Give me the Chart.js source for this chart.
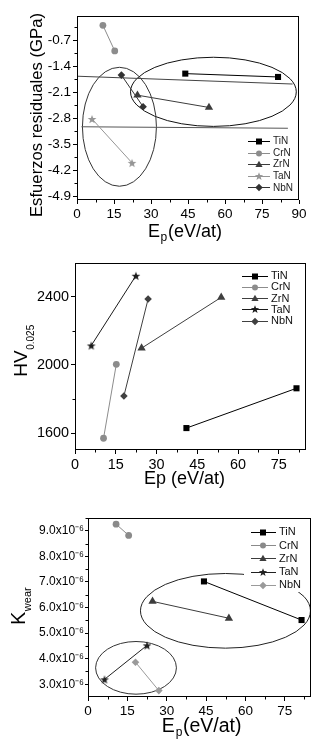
<!DOCTYPE html>
<html><head><meta charset="utf-8">
<script src="https://cdn.jsdelivr.net/npm/chart.js@4.4.0/dist/chart.umd.min.js"></script>
<style>
html,body{margin:0;padding:0;background:#fff;width:324px;height:744px;overflow:hidden}
canvas{position:absolute;left:0}
</style></head><body>
<canvas id="c1" style="top:0px" width="324" height="250"></canvas>
<canvas id="c2" style="top:250px" width="324" height="250"></canvas>
<canvas id="c3" style="top:500px" width="324" height="244"></canvas>
<script>
const FONT = '"Liberation Sans", Arial, Helvetica, sans-serif';
const materials = ['TiN', 'CrN', 'ZrN', 'TaN', 'NbN'];

// ---- Chart 1: residual stress (GPa) vs Ep ----
const stressEpTiN = [43.9, 81.5], stressTiN = [-1.60, -1.69];
const stressEpCrN = [10.5, 15.3], stressCrN = [-0.30, -0.99];
const stressEpZrN = [24.5, 53.5], stressZrN = [-2.18, -2.51];
const stressEpTaN = [6.1, 22.3],  stressTaN = [-2.82, -4.00];
const stressEpNbN = [18.0, 26.8], stressNbN = [-1.64, -2.49];
const stressRefEp1 = [0, 87.4],  stressRef1 = [-1.67, -1.88];
const stressRefEp2 = [1.8, 85.5], stressRef2 = [-3.03, -3.07];
const stressXTicks = [0, 15, 30, 45, 60, 75, 90];
const stressYTicks = [-0.7, -1.4, -2.1, -2.8, -3.5, -4.2, -4.9];
const stressEllipses = [[55.3, -2.09, 33.6, 0.93], [17.2, -3.03, 15.0, 1.60]];

// ---- Chart 2: hardness HV0.025 vs Ep ----
const hvEpTiN = [41.0, 81.5], hvTiN = [1629, 1863];
const hvEpCrN = [10.5, 15.2], hvCrN = [1569, 2004];
const hvEpZrN = [24.5, 53.8], hvZrN = [2099, 2398];
const hvEpTaN = [6.0, 22.4],  hvTaN = [2115, 2525];
const hvEpNbN = [18.0, 26.9], hvNbN = [1818, 2388];
const hvXTicks = [0, 15, 30, 45, 60, 75];
const hvYTicks = [1600, 2000, 2400];

// ---- Chart 3: wear coefficient vs Ep ----
const kEpTiN = [44.2, 81.4], kTiN = [7.02e-6, 5.51e-6];
const kEpCrN = [10.7, 15.5], kCrN = [9.26e-6, 8.82e-6];
const kEpZrN = [24.6, 53.7], kZrN = [6.24e-6, 5.58e-6];
const kEpTaN = [6.3, 22.5],  kTaN = [3.19e-6, 4.52e-6];
const kEpNbN = [18.1, 27.0], kNbN = [3.86e-6, 2.75e-6];
const kXTicks = [0, 15, 30, 45, 60, 75];
const kYTicks = [3e-6, 4e-6, 5e-6, 6e-6, 7e-6, 8e-6, 9e-6];
const kEllipses = [[52.4, 5.87e-6, 32.4, 1.46e-6], [18.3, 3.64e-6, 15.4, 1.03e-6]];

Chart.defaults.font.family = FONT;
Chart.defaults.color = '#000';

function pts(xs, ys) { return xs.map((x, i) => ({ x: x, y: ys[i] })); }

function starPath(ctx, x, y, R, r) {
  ctx.moveTo(x, y - R);
  for (let i = 1; i < 10; i++) {
    const a = -Math.PI / 2 + i * Math.PI / 5;
    const rr = i % 2 ? r : R;
    ctx.lineTo(x + rr * Math.cos(a), y + rr * Math.sin(a));
  }
  ctx.closePath();
}
function starImg(color, R) {
  const s = Math.ceil(R * 2) + 2;
  const c = document.createElement('canvas');
  c.width = s; c.height = s;
  const g = c.getContext('2d');
  g.fillStyle = color; g.beginPath(); starPath(g, s / 2, s / 2 + 0.5, R, R * 0.42); g.fill();
  return c;
}
function marker(ctx, style, x, y, r, color) {
  ctx.fillStyle = color; ctx.beginPath();
  if (style === 'rect') ctx.rect(x - r, y - r, 2 * r, 2 * r);
  else if (style === 'circle') ctx.arc(x, y, r, 0, 2 * Math.PI);
  else if (style === 'triangle') { ctx.moveTo(x, y - r * 1.25); ctx.lineTo(x + r * 1.2, y + r * 0.8); ctx.lineTo(x - r * 1.2, y + r * 0.8); ctx.closePath(); }
  else if (style === 'rectRot') { ctx.moveTo(x, y - r * 1.25); ctx.lineTo(x + r * 1.25, y); ctx.lineTo(x, y + r * 1.25); ctx.lineTo(x - r * 1.25, y); ctx.closePath(); }
  else if (style === 'star') starPath(ctx, x, y, r * 1.45, r * 0.6);
  ctx.fill();
}
function txt(ctx, s, x, y, size, align, base, color) {
  ctx.font = size + 'px ' + FONT;
  ctx.fillStyle = color || '#000';
  ctx.textAlign = align || 'left';
  ctx.textBaseline = base || 'alphabetic';
  ctx.fillText(s, x, y);
  return ctx.measureText(s).width;
}

const styles = ['rect', 'circle', 'triangle', 'star', 'rectRot'];

function makeDatasets(xsArr, ysArr, colors, lineColors, radii, starR) {
  return xsArr.map((xs, i) => ({
    label: materials[i],
    data: pts(xs, ysArr[i]),
    showLine: true,
    borderColor: lineColors[i],
    borderWidth: 1,
    backgroundColor: colors[i],
    pointBackgroundColor: colors[i],
    pointBorderWidth: 0,
    pointStyle: styles[i] === 'star' ? starImg(colors[i], starR) : styles[i],
    pointRadius: radii[i],
    pointHoverRadius: radii[i],
    order: i
  }));
}

function axis(min, max, ticks, fmt, fontSize, tickLen, pad, fit, isX) {
  return {
    type: 'linear', min: min, max: max,
    border: { display: false },
    grid: { drawOnChartArea: false, drawTicks: true, tickLength: tickLen, tickColor: '#000', tickWidth: 1 },
    ticks: { color: '#000', font: { size: fontSize, family: FONT }, padding: pad, maxRotation: 0, autoSkip: false,
      callback: (v) => fmt(v) },
    afterBuildTicks: (s) => { s.ticks = ticks.map(v => ({ value: v })); },
    afterFit: (s) => { if (isX) s.height = fit; else s.width = fit; }
  };
}

function makeDecor(cfg) {
  return {
    id: 'decor',
    beforeDatasetsDraw(chart) {
      const ctx = chart.ctx, a = chart.chartArea, x = chart.scales.x, y = chart.scales.y;
      ctx.save();
      ctx.beginPath(); ctx.rect(a.left, a.top, a.right - a.left, a.bottom - a.top); ctx.clip();
      (cfg.ellipses || []).forEach((e, i) => {
        const cx = x.getPixelForValue(e[0]), cy = y.getPixelForValue(e[1]);
        const rx = Math.abs(x.getPixelForValue(e[0] + e[2]) - cx);
        const ry = Math.abs(y.getPixelForValue(e[1] + e[3]) - cy);
        ctx.beginPath(); ctx.ellipse(cx, cy, rx, ry, 0, 0, Math.PI * 2);
        ctx.strokeStyle = cfg.ellipseColors[i]; ctx.lineWidth = 1; ctx.stroke();
      });
      ctx.restore();
    },
    afterDraw(chart) {
      const ctx = chart.ctx, a = chart.chartArea, x = chart.scales.x, y = chart.scales.y;
      ctx.save();
      ctx.strokeStyle = '#000'; ctx.lineWidth = 1;
      ctx.strokeRect(Math.round(a.left) + 0.5, Math.round(a.top) + 0.5, Math.round(a.right - a.left) - 1, Math.round(a.bottom - a.top) - 1);
      ctx.beginPath();
      (cfg.minorX || []).forEach(v => { const p = Math.round(x.getPixelForValue(v)) + 0.5; ctx.moveTo(p, a.bottom); ctx.lineTo(p, a.bottom + 2.5); });
      (cfg.minorY || []).forEach(v => { const p = Math.round(y.getPixelForValue(v)) + 0.5; ctx.moveTo(a.left, p); ctx.lineTo(a.left - 2.5, p); });
      ctx.stroke();
      const L = cfg.legend;
      if (L.bg) { ctx.fillStyle = '#fff'; ctx.fillRect(L.bg[0], L.bg[1], L.bg[2], L.bg[3]); }
      chart.data.datasets.forEach((ds, i) => {
        if (i >= materials.length) return;
        const yy = L.y0 + i * L.dy;
        ctx.strokeStyle = ds.borderColor; ctx.lineWidth = 1;
        ctx.beginPath(); ctx.moveTo(L.x0, Math.round(yy) + 0.5); ctx.lineTo(L.x1, Math.round(yy) + 0.5); ctx.stroke();
        marker(ctx, styles[i], L.xm, Math.round(yy) + 0.5, L.r, ds.backgroundColor);
        txt(ctx, ds.label, L.xt, yy + 0.5, L.font, 'left', 'middle', L.textColor);
      });
      cfg.titles(ctx);
      ctx.restore();
    }
  };
}

function range(a, b, s) { const r = []; for (let v = a; v <= b + 1e-12; v += s) r.push(+v.toPrecision(10)); return r; }

// ---------- Chart 1 ----------
(function () {
  const colors = ['#000000', '#8c8c8c', '#3c3c3c', '#959595', '#333333'];
  const ds = makeDatasets(
    [stressEpTiN, stressEpCrN, stressEpZrN, stressEpTaN, stressEpNbN],
    [stressTiN, stressCrN, stressZrN, stressTaN, stressNbN],
    colors, colors, [4.3, 3.4, 4.8, 4.6, 3.8], 4.6);
  ds.push({ data: pts(stressRefEp1, stressRef1), showLine: true, borderColor: '#444', borderWidth: 1, pointRadius: 0, order: 10 });
  ds.push({ data: pts(stressRefEp2, stressRef2), showLine: true, borderColor: '#555', borderWidth: 1, pointRadius: 0, order: 11 });
  new Chart(document.getElementById('c1'), {
    type: 'scatter',
    data: { datasets: ds },
    options: {
      responsive: false, animation: false, devicePixelRatio: 1,
      layout: { padding: { left: 0, right: 25, top: 16, bottom: 0 } },
      plugins: { legend: { display: false }, tooltip: { enabled: false } },
      scales: {
        x: axis(0, 90, stressXTicks, v => String(v), 13.5, 4, 2, 50, true),
        y: axis(-5.0, -0.05, stressYTicks, v => v.toFixed(1), 13.5, 4, 2, 77, false)
      }
    },
    plugins: [makeDecor({
      ellipses: stressEllipses, ellipseColors: ['#111', '#333'],
      minorX: range(7.5, 82.5, 15), minorY: range(-4.55, -0.35, 0.7),
      legend: { x0: 248, x1: 270, xm: 259, xt: 273, y0: 141, dy: 11.6, r: 3, font: 10, textColor: '#222' },
      titles: (ctx) => {
        ctx.save(); ctx.translate(41.5, 115); ctx.rotate(-Math.PI / 2);
        txt(ctx, 'Esfuerzos residuales (GPa)', 0, 0, 16.7, 'center');
        ctx.restore();
        const w = txt(ctx, 'E', 148, 237, 18);
        txt(ctx, 'p', 148 + w + 0.5, 241, 12);
        txt(ctx, '(eV/at)', 168, 237, 18);
      }
    })]
  });
})();

// ---------- Chart 2 ----------
(function () {
  const colors = ['#000000', '#8c8c8c', '#3f3f3f', '#1a1a1a', '#404040'];
  const ds = makeDatasets(
    [hvEpTiN, hvEpCrN, hvEpZrN, hvEpTaN, hvEpNbN],
    [hvTiN, hvCrN, hvZrN, hvTaN, hvNbN],
    colors, colors, [4.3, 3.4, 4.8, 4.6, 3.8], 4.6);
  new Chart(document.getElementById('c2'), {
    type: 'scatter',
    data: { datasets: ds },
    options: {
      responsive: false, animation: false, devicePixelRatio: 1,
      layout: { padding: { left: 0, right: 18, top: 13, bottom: 0 } },
      plugins: { legend: { display: false }, tooltip: { enabled: false } },
      scales: {
        x: axis(0, 85, hvXTicks, v => String(v), 14.4, 4, 2, 50, true),
        y: axis(1500, 2600, hvYTicks, v => String(v), 14.4, 4, 2, 75, false)
      }
    },
    plugins: [makeDecor({
      ellipses: [], ellipseColors: [],
      minorX: range(7.5, 82.5, 15), minorY: [1800, 2200],
      legend: { x0: 242, x1: 268, xm: 255, xt: 271, y0: 25.7, dy: 11.2, r: 3, font: 11, textColor: '#111' },
      titles: (ctx) => {
        ctx.save(); ctx.translate(27, 126.7); ctx.rotate(-Math.PI / 2);
        const w = txt(ctx, 'HV', 0, 0, 19);
        txt(ctx, '0.025', w + 0.5, 7, 10);
        ctx.restore();
        txt(ctx, 'Ep (eV/at)', 184.5, 234, 18, 'center');
      }
    })]
  });
})();

// ---------- Chart 3 ----------
(function () {
  const colors = ['#000000', '#8a8a8a', '#3c3c3c', '#202020', '#9a9a9a'];
  const ds = makeDatasets(
    [kEpTiN, kEpCrN, kEpZrN, kEpTaN, kEpNbN],
    [kTiN, kCrN, kZrN, kTaN, kNbN],
    colors, colors, [4.3, 3.4, 4.8, 4.6, 3.8], 4.6);
  new Chart(document.getElementById('c3'), {
    type: 'scatter',
    data: { datasets: ds },
    options: {
      responsive: false, animation: false, devicePixelRatio: 1,
      layout: { padding: { left: 0, right: 13, top: 18, bottom: 0 } },
      plugins: { legend: { display: false }, tooltip: { enabled: false } },
      scales: {
        x: axis(0, 85, kXTicks, v => String(v), 13.5, 4, 2, 47, true),
        y: axis(2.5e-6, 9.5e-6, kYTicks, v => (v * 1e6).toFixed(1) + 'x10\u207B\u2076', 12, 3, 1, 88, false)
      }
    },
    plugins: [makeDecor({
      ellipses: kEllipses, ellipseColors: ['#222', '#333'],
      minorX: range(7.5, 82.5, 15), minorY: range(3.5e-6, 9.5e-6, 1e-6),
      legend: { x0: 251, x1: 276, xm: 263, xt: 279, y0: 31.7, dy: 13.3, r: 3, font: 11, textColor: '#111', bg: [244, 21, 62, 71] },
      titles: (ctx) => {
        ctx.save(); ctx.translate(25, 125); ctx.rotate(-Math.PI / 2);
        const w = txt(ctx, 'K', 0, 0, 20);
        txt(ctx, 'wear', w + 0.5, 6, 11);
        ctx.restore();
        const w1 = txt(ctx, 'E', 161.7, 232, 19.5);
        txt(ctx, 'p', 161.7 + w1 + 1, 236, 12);
        txt(ctx, '(eV/at)', 183, 232, 19.5);
      }
    })]
  });
})();
</script>
</body></html>
